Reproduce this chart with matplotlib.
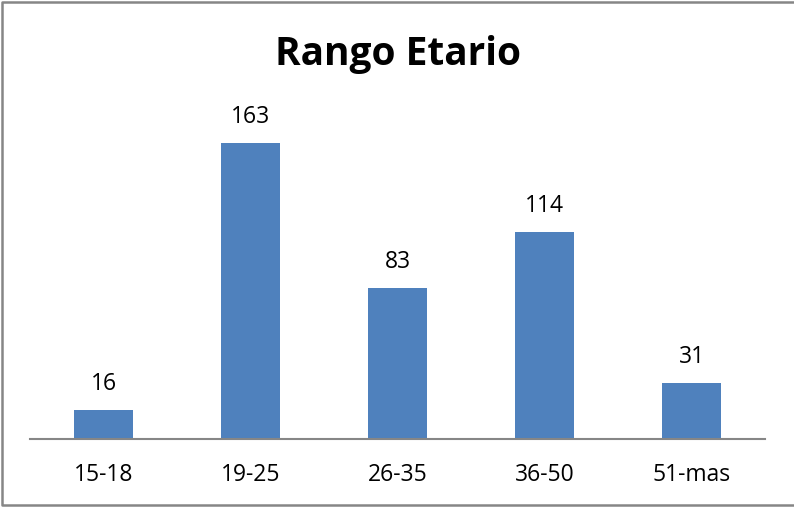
import matplotlib
matplotlib.use("Agg")
import matplotlib.pyplot as plt
from matplotlib.lines import Line2D

categories = ["15-18", "19-25", "26-35", "36-50", "51-mas"]
values = [16, 163, 83, 114, 31]

plt.rcParams["font.family"] = ["Open Sans", "DejaVu Sans"]

fig = plt.figure(figsize=[7.94, 5.07], dpi=100)
ax = fig.add_axes([30 / 794, 68 / 507, 735 / 794, 327 / 507])

x = range(len(categories))
bars = ax.bar(x, values, width=0.395, color="#4F81BD")
for xi, v in zip(x, values):
    ax.annotate(str(v), (xi, v), xytext=(0, 10), textcoords="offset points",
                ha="center", va="bottom", fontsize=16.5)

ax.set_xlim(-0.5, len(categories) - 0.5)
ax.set_ylim(0, 180)
ax.set_xticks(list(x))
ax.set_xticklabels(categories, fontsize=16.5)
ax.tick_params(axis="x", length=0, pad=17)
ax.set_yticks([])
for side in ["top", "right", "left"]:
    ax.spines[side].set_visible(False)
ax.spines["bottom"].set_color("#868686")
ax.spines["bottom"].set_linewidth(1.5)

fig.text(398 / 794, 1 - 54 / 507, "Rango Etario", ha="center", va="center",
         fontsize=28, fontweight="bold")

# outer frame (no right edge, as in the source)
fig.lines.append(Line2D([0.999, 0.002, 0.002, 0.999], [0.996, 0.996, 0.004, 0.004],
                        transform=fig.transFigure, color="#868686", linewidth=1.8))

fig.savefig("out.png", dpi=100)
